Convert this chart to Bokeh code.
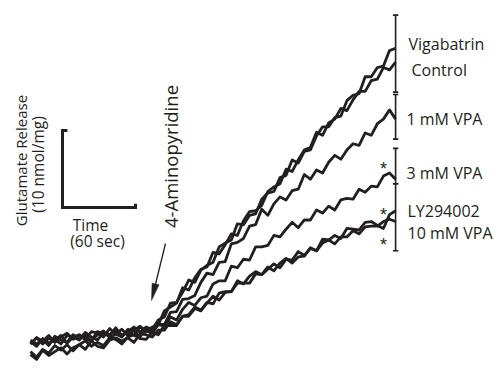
import math
from bokeh.plotting import figure
from bokeh.models import Range1d, Label
from bokeh.embed import file_html
from bokeh.resources import INLINE

# ---------------- data (time in s, glutamate release in nmol/mg) ----------------
time_s = list(range(0, 301, 5))

vigabatrin = [0.5, -0.1, 0.9, 0.3, 0.7, 1.3, 0.3, 1.1, 1.4, 0.8, 0.6, 1.8, 1.5, 1.3, 2.3, 1.3,
              1.8, 2.4, 1.7, 2.4, 2.1, 3.3, 3.7, 5.5, 5.6, 6.9, 8.5, 8.2, 9.8, 10.4, 10.8, 12.8,
              13.3, 13.7, 15.8, 15.7, 16.9, 17.1, 19.0, 19.8, 20.0, 21.8, 22.1, 24.1, 23.7, 25.2,
              25.4, 27.2, 28.4, 28.4, 29.6, 29.8, 31.8, 32.5, 32.7, 34.9, 34.9, 36.1, 36.3, 38.3, 38.6]

control = [0.2, 1.0, 0.6, 1.3, 0.4, 1.1, 1.6, 0.8, 1.3, 0.8, 1.8, 1.6, 1.1, 2.2, 1.5, 2.1,
           1.3, 2.0, 2.5, 1.8, 2.4, 2.7, 4.5, 5.0, 5.5, 7.5, 7.2, 8.8, 9.9, 10.2, 12.1, 11.9,
           13.1, 14.5, 14.3, 16.2, 17.4, 17.5, 18.2, 20.0, 20.6, 21.0, 22.9, 22.6, 24.1, 25.4,
           25.7, 27.7, 27.3, 28.9, 29.4, 30.8, 30.5, 31.9, 33.0, 33.0, 34.4, 34.6, 36.1, 35.8, 36.8]

vpa_1mm = [0.7, 0.2, 0.8, 0.0, 1.2, 0.7, 0.4, 1.4, 0.8, 1.3, 0.6, 1.4, 1.9, 1.0, 1.5, 1.1,
           2.1, 1.9, 1.1, 2.2, 1.9, 2.8, 2.7, 4.3, 4.4, 6.0, 6.1, 6.5, 8.2, 9.4, 9.2, 10.8,
           10.9, 13.2, 13.4, 13.9, 15.5, 15.7, 17.7, 16.9, 18.4, 19.3, 18.9, 20.1, 20.3, 22.2,
           21.6, 22.8, 22.4, 23.8, 24.7, 24.2, 25.4, 26.2, 26.0, 27.6, 27.3, 28.8, 29.4, 30.6, 29.4]

vpa_3mm = [0.2, 1.0, 0.2, 0.9, 0.8, 0.2, 1.3, 1.1, 0.7, 1.7, 1.1, 0.7, 1.7, 1.4, 2.0, 1.2,
           1.8, 1.3, 2.4, 1.9, 1.6, 2.7, 2.5, 3.7, 3.3, 4.7, 5.6, 5.2, 6.2, 6.4, 8.0, 8.4,
           8.4, 10.3, 10.1, 11.2, 11.1, 12.8, 12.8, 13.0, 14.3, 14.1, 15.1, 16.0, 15.3, 16.3,
           16.3, 17.6, 17.2, 18.1, 17.6, 18.9, 19.1, 19.0, 20.3, 19.9, 20.7, 20.6, 22.0, 22.4, 21.6]

ly294002 = [-1.2, -1.8, -0.6, -1.3, -0.8, -0.3, -1.1, -0.3, 0.1, -0.5, 0.6, -0.1, -0.3, 0.7, 1.0, 0.6,
            1.0, 0.4, 1.5, 1.4, 1.1, 2.0, 2.0, 3.1, 2.7, 3.8, 4.0, 5.0, 4.6, 5.6, 5.4, 6.8,
            7.0, 7.0, 8.4, 8.0, 9.0, 9.6, 9.2, 9.9, 10.6, 10.1, 11.2, 11.1, 12.2, 11.7,
            12.6, 12.3, 13.8, 13.7, 14.3, 13.9, 15.2, 15.1, 15.0, 16.0, 16.1, 15.6, 15.2, 17.0, 17.5]

vpa_10mm = [-0.8, -1.5, -0.5, -1.0, 0.0, -0.6, 0.1, -0.7, 0.1, 0.6, -0.1, 0.4, 0.0, 1.0, 0.8, 0.2,
            1.1, 1.4, 0.9, 0.8, 1.7, 1.4, 2.6, 2.6, 2.6, 3.8, 3.8, 4.8, 4.5, 5.5, 6.4, 5.9,
            6.9, 7.0, 8.1, 8.1, 8.1, 9.3, 9.2, 10.2, 9.7, 10.7, 11.3, 10.7, 11.5, 11.6,
            12.7, 12.3, 13.3, 13.7, 13.2, 14.1, 14.1, 14.9, 14.5, 15.4, 15.5, 15.5, 16.1, 16.4, 16.1]

series = [vigabatrin, control, vpa_1mm, vpa_3mm, ly294002, vpa_10mm]
labels = ["Vigabatrin", "Control", "1 mM VPA", "3 mM VPA", "LY294002", "10 mM VPA"]

# end-point error bars (nmol/mg)
err_low = [32.9, 26.8, 21.0, 12.3]
err_high = [42.9, 32.6, 25.6, 21.0]
err_time = 300

# significance asterisks (time, value)
star_time = [290, 290, 290]
star_value = [22.9, 16.9, 13.0]

scale_time = 60      # s
scale_release = 10   # nmol/mg

# ---------------- layout helpers (pixel -> data) ----------------
W, H = 494, 367
X0, XS = 30.0, 1.217   # px at t=0, px per second
Y0, YS = 345.0, 7.7    # px at 0 nmol/mg, px per nmol/mg


def dx(px):
    return (px - X0) / XS


def dy(py):
    return (Y0 - py) / YS


p = figure(width=W, height=H, output_backend="svg", toolbar_location=None,
           x_range=Range1d(dx(0), dx(W)), y_range=Range1d(dy(H), dy(0)),
           x_axis_location=None, y_axis_location=None, min_border=0)
p.grid.visible = False
p.outline_line_color = None
p.background_fill_color = "white"
p.border_fill_color = "white"

ink = "#231f20"
FONT = "Open Sans"

for s in series:
    p.line(time_s, s, line_color=ink, line_width=2.8, line_join="round")

# error bars
cap = 2.2  # seconds half-width of caps
n = len(err_low)
p.segment(x0=[err_time] * n, y0=err_low, x1=[err_time] * n, y1=err_high,
          line_color=ink, line_width=1.6)
p.segment(x0=[err_time - cap] * n, y0=err_low, x1=[err_time + cap] * n, y1=err_low,
          line_color=ink, line_width=1.6)
p.segment(x0=[err_time - cap] * n, y0=err_high, x1=[err_time + cap] * n, y1=err_high,
          line_color=ink, line_width=1.6)

p.text(x=star_time, y=star_value, text=["*"] * len(star_time), text_font_size="18px",
       text_align="center", text_baseline="middle", text_color=ink)

# right-hand labels
label_py = [43, 69, 118, 172, 210, 232]
label_px = [408, 411, 406, 406, 407, 407]
for txt, lx, ly in zip(labels, label_px, label_py):
    p.add_layout(Label(x=dx(lx), y=dy(ly), text=txt, text_font=FONT, text_font_size="16px",
                       text_align="left", text_baseline="middle", text_color=ink))

# scale bar
sb_x, sb_y = dx(62), dy(207)
p.line([sb_x + 4, sb_x, sb_x, sb_x + scale_time, sb_x + scale_time],
       [sb_y + scale_release, sb_y + scale_release, sb_y, sb_y, sb_y + 0.5],
       line_color=ink, line_width=3, line_join="miter")
p.add_layout(Label(x=dx(20), y=dy(160), text="Glutamate Release", angle=math.pi / 2,
                   text_font=FONT, text_font_size="15px", text_align="center",
                   text_baseline="middle", text_color=ink))
p.add_layout(Label(x=dx(37), y=dy(164), text="(10 nmol/mg)", angle=math.pi / 2,
                   text_font=FONT, text_font_size="15.5px", text_align="center",
                   text_baseline="middle", text_color=ink))
p.add_layout(Label(x=dx(90), y=dy(224), text="Time", text_font=FONT, text_font_size="15.5px",
                   text_align="center", text_baseline="middle", text_color=ink))
p.add_layout(Label(x=dx(97), y=dy(240), text="(60 sec)", text_font=FONT, text_font_size="15.5px",
                   text_align="center", text_baseline="middle", text_color=ink))

# 4-aminopyridine arrow
p.add_layout(Label(x=dx(170), y=dy(156), text="4-Aminopyridine", angle=math.pi / 2,
                   text_font=FONT, text_font_size="18.5px", text_align="center",
                   text_baseline="middle", text_color=ink))
tip = (151.0, 300.0)
tail = (165.0, 243.0)
vx, vy = tip[0] - tail[0], tip[1] - tail[1]
L = math.hypot(vx, vy)
ux, uy = vx / L, vy / L
hl, hw = 17.0, 3.6
bx, by = tip[0] - ux * hl, tip[1] - uy * hl
p.line([dx(tail[0]), dx(bx)], [dy(tail[1]), dy(by)], line_color=ink, line_width=1.3)
p.patch([dx(tip[0]), dx(bx - uy * hw), dx(bx + uy * hw)],
        [dy(tip[1]), dy(by + ux * hw), dy(by - ux * hw)],
        fill_color=ink, line_color=ink, line_width=0.5)

open("out.html", "w").write(file_html(p, INLINE))
